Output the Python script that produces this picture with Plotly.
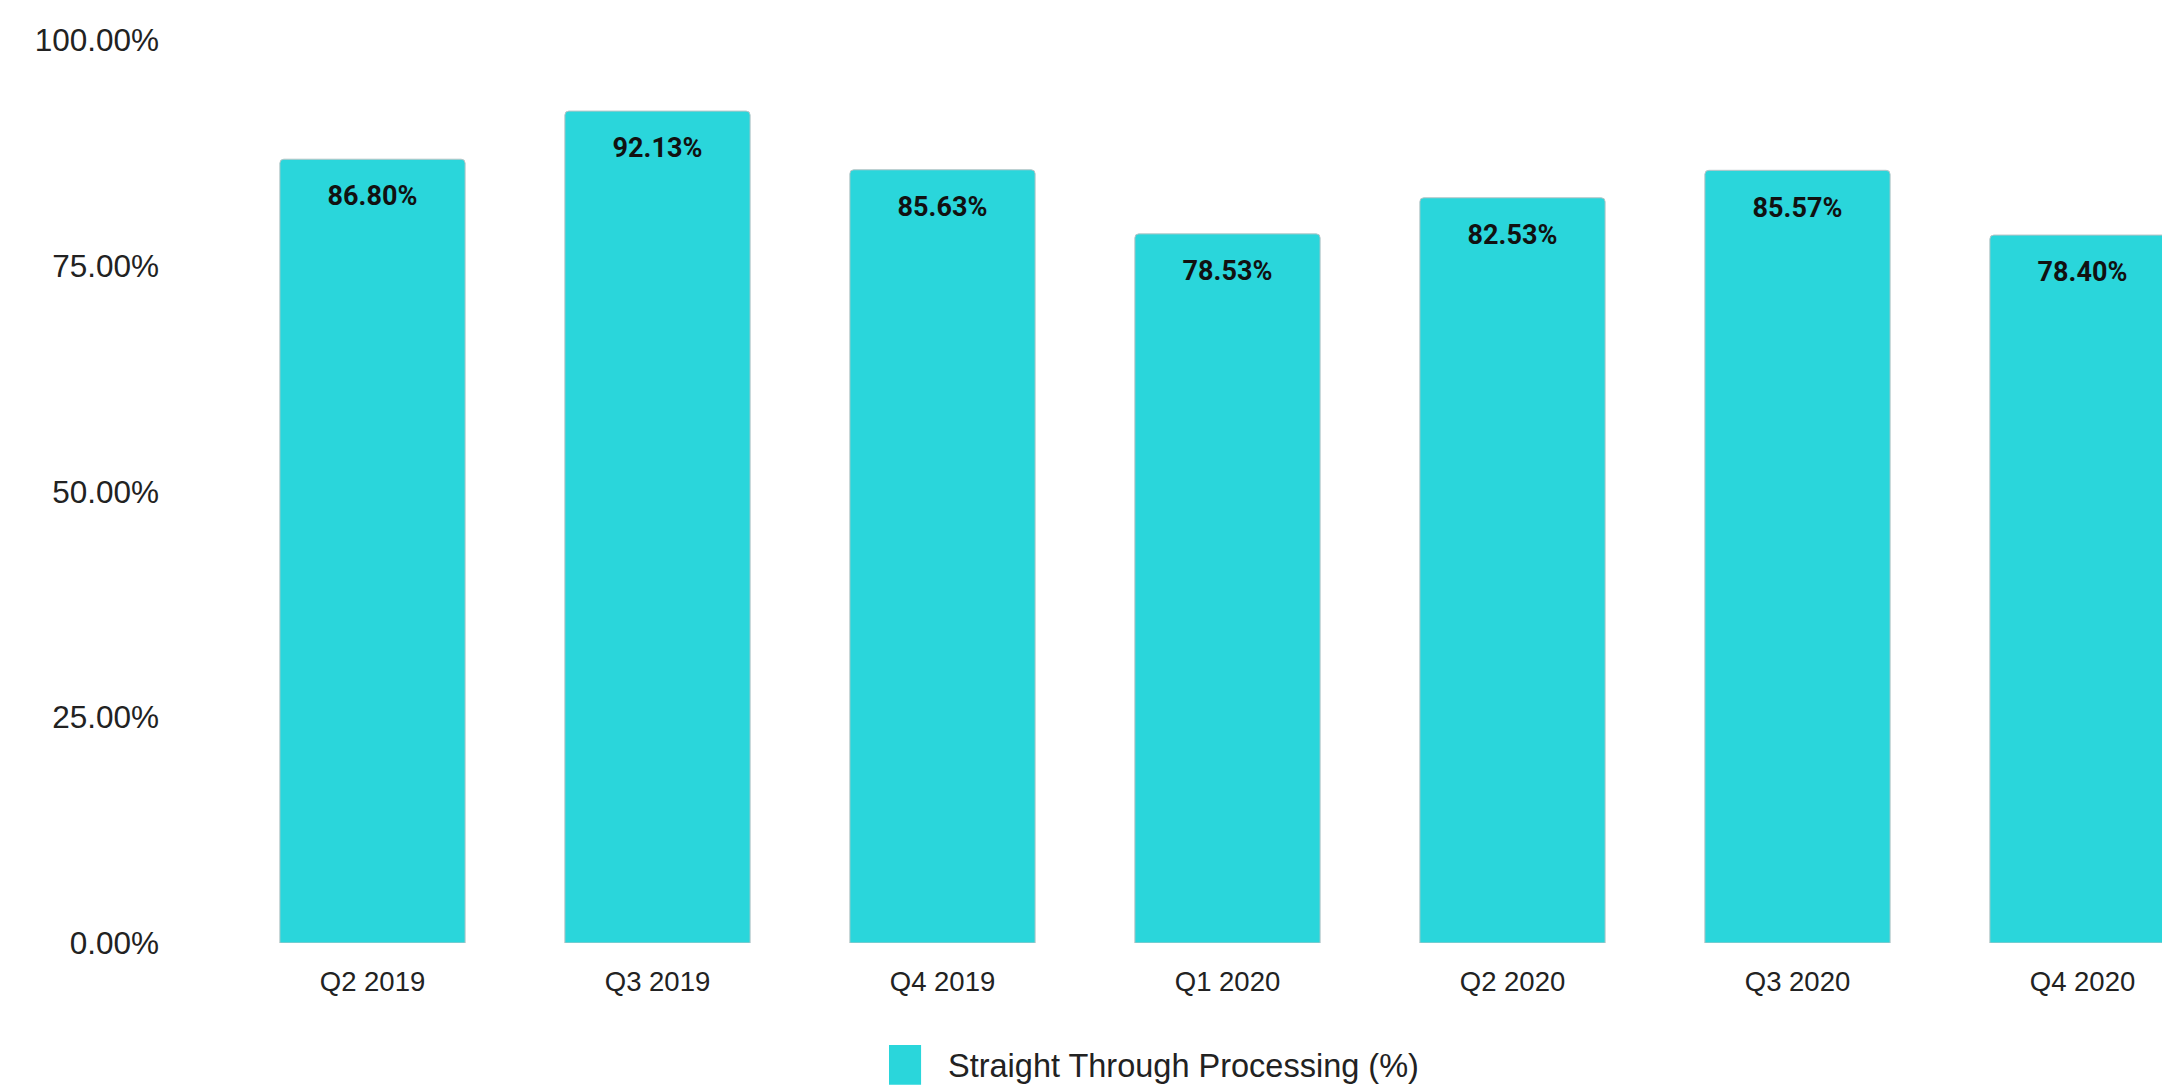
import plotly.graph_objects as go

categories = ["Q2 2019", "Q3 2019", "Q4 2019", "Q1 2020", "Q2 2020", "Q3 2020", "Q4 2020"]
stp_values = [86.80, 92.13, 85.63, 78.53, 82.53, 85.57, 78.40]
series_name = "Straight Through Processing (%)"
y_ticks = [0, 25, 50, 75, 100]
y_tick_labels = [f"{v:.2f}%" for v in y_ticks]

BAR_COLOR = "#2AD6DB"

fig = go.Figure()
fig.add_trace(go.Bar(
    x=categories, y=stp_values, name=series_name,
    marker=dict(color=BAR_COLOR, line=dict(color="#B8C4C6", width=1), cornerradius=4),
    hoverinfo="x+y", showlegend=False,
))
fig.add_trace(go.Scatter(
    x=categories, y=stp_values, mode="markers+text",
    text=[f"{v:.2f}%" for v in stp_values],
    textposition="bottom center",
    marker=dict(size=40, opacity=0),
    textfont=dict(family="Roboto", size=27, color="#111111", weight="bold"),
    showlegend=False, hoverinfo="skip", cliponaxis=False,
))

# custom legend (large swatch like the reference)
fig.add_shape(type="rect", xref="paper", yref="paper",
              x0=0.3411, x1=0.3577, y0=-0.113, y1=-0.157,
              fillcolor=BAR_COLOR, line=dict(width=0), layer="above")
fig.add_annotation(text=series_name, xref="paper", yref="paper",
                   x=0.3706, y=-0.136, xanchor="left", yanchor="middle",
                   showarrow=False,
                   font=dict(family="Liberation Sans, Arial", size=32.5, color="#222222"))

fig.update_layout(
    width=2162, height=1086,
    margin=dict(l=230, r=0, t=40, b=143),
    paper_bgcolor="white", plot_bgcolor="white",
    bargap=0.35,
    showlegend=False,
    font=dict(family="Liberation Sans, Arial", color="#222222"),
)
fig.update_xaxes(
    range=[-0.5, 6.279], showgrid=False, zeroline=False, showline=False,
    tickfont=dict(size=27.5, color="#222222"), ticks="", ticklabelstandoff=19,
)
fig.update_yaxes(
    range=[0, 100], tickvals=y_ticks, ticktext=y_tick_labels,
    showgrid=False, zeroline=False, showline=False,
    tickfont=dict(size=31.5, color="#222222"), ticks="", ticklabelstandoff=70,
)

fig.write_html("out.html")
